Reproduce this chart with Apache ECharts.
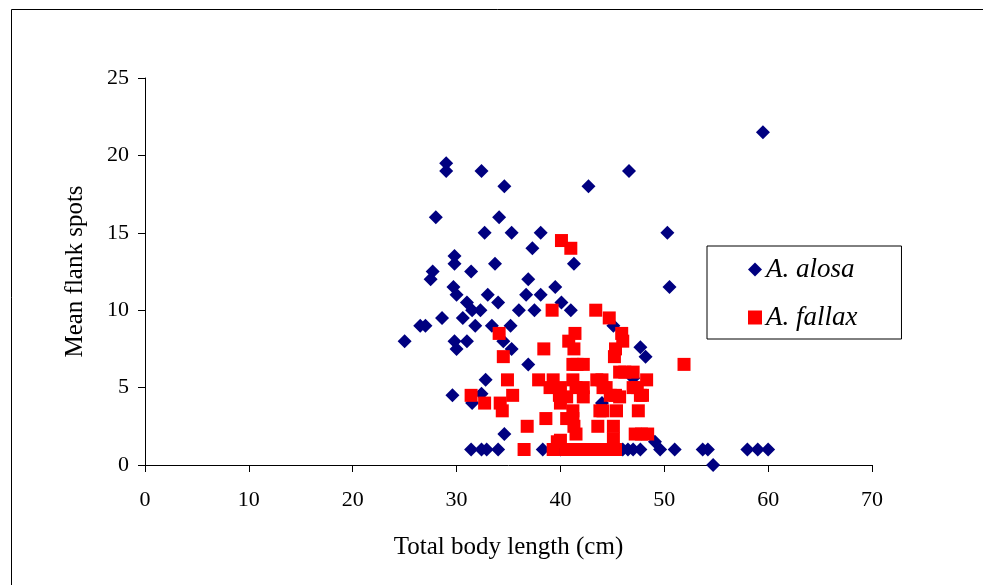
<!DOCTYPE html>
<html>
<head>
<meta charset="utf-8">
<script src="https://cdn.jsdelivr.net/npm/echarts@6/dist/echarts.min.js"></script>
<style>
html,body{margin:0;padding:0;background:#fff;}
#chart{width:983px;height:585px;}
</style>
</head>
<body>
<div id="chart"></div>
<script>
// A. alosa: [total body length (cm), mean flank spots]
var alosaData = [
  [25,8],[26.5,9],[27,9],[27.5,12],[27.7,12.5],[28,16],[28.6,9.5],[29,19.5],[29,19],
  [29.6,4.5],[29.7,11.5],[30,11],[29.8,13.5],[29.8,13],[29.8,8],[30,7.5],[31,8],[30.6,9.5],
  [31,10.5],[31.5,10],[31.4,12.5],[31.8,9],[31.5,4],[31.4,1],[32.3,10],[32.4,19],[32.4,4.6],
  [32.7,15],[32.8,5.5],[32.4,1],[32.9,1],[33,11],[33.4,9],[33.7,13],[34,10.5],[34.1,16],
  [34,1],[34.6,18],[34.5,8],[34.6,2],[35.2,9],[35.3,15],[35.3,7.5],[36,10],[36.7,11],
  [36.9,12],[36.9,6.5],[37.3,14],[37.5,10],[38.1,15],[38.1,11],[38.3,1],[39.5,11.5],
  [40.1,10.5],[41,10],[41.3,13],[42.7,18],[44,4],[45.1,9],[46.6,19],[47,5.6],[40,1],
  [46,1],[46.5,1],[47,1],[47.7,1],[47.7,7.6],[48.2,7],[49.1,1.5],[49.6,1],[51,1],
  [50.3,15],[50.5,11.5],[53.7,1],[54.2,1],[54.7,0],[58,1],[59,1],[60,1],[59.5,21.5]
];
// A. fallax: [total body length (cm), mean flank spots]
var fallaxData = [
  [31.4,4.5],[32.7,4],[34.1,8.5],[34.5,7],[34.9,5.5],[34.2,4],[35.4,4.5],[34.4,3.5],
  [36.8,2.5],[36.5,1],[37.9,5.5],[38.4,7.5],[38.6,3],[39.2,10],[39.3,5.5],[39,5],
  [39.9,4.5],[40,4],[39.3,1],[39.7,1.5],[40.1,14.5],[41,14],[40.8,8],[41.3,7.5],
  [41.4,8.5],[41.2,6.5],[41.6,6.5],[42.2,6.5],[41.2,5.5],[41.5,5],[40.6,4.4],[40,5],
  [40.6,3],[41.2,3.5],[41.2,3],[41.5,2],[41.3,2.5],[40,1.6],[41.6,1],[40.5,1],[42.3,1],
  [42.2,5],[42.2,4.4],[42.8,1],[43.1,1],[43.4,10],[43.5,5.5],[44,5.5],[43.6,2.5],
  [43.8,3.5],[44.1,5],[44.1,3.5],[44.4,5],[44.7,9.5],[44.8,4.5],[44.8,1],[44,1],
  [45.1,2.5],[45.1,1.7],[45.3,7.5],[45.2,7],[45.3,4.5],[45.4,3.5],[45.3,1],[45.9,8.5],
  [46,8],[45.7,6],[46.2,6],[45.7,4.4],[47,6],[47,5],[47.4,5],[47.5,3.5],[47.7,4.5],
  [47.9,4.5],[48.3,5.5],[47.2,2],[47.8,2],[48.4,2],[51.9,6.5]
];
var seriesNames = ['A. alosa', 'A. fallax'];
var xTitle = 'Total body length (cm)';
var yTitle = 'Mean flank spots';

var serif = '"Liberation Serif", "Times New Roman", serif';
var chart = echarts.init(document.getElementById('chart'), null, {renderer: 'canvas'});
chart.setOption({
  backgroundColor: '#fff',
  animation: false,
  graphic: [{
    type: 'rect', left: 9, top: 7, silent: true, z: -1,
    shape: {x: 0, y: 0, width: 1000, height: 620},
    style: {fill: 'none', stroke: '#000', lineWidth: 1}
  }],
  grid: {left: 145, right: 111, top: 78, bottom: 120, containLabel: false},
  legend: {
    orient: 'vertical',
    left: 707, top: 246,
    padding: [10, 44, 8, 41],
    itemGap: 21,
    itemWidth: 14, itemHeight: 14,
    borderColor: '#000', borderWidth: 1,
    backgroundColor: '#fff',
    textStyle: {fontFamily: serif, fontSize: 27, fontStyle: 'italic', color: '#000', padding: [0,0,0,-1]},
    data: [
      {name: seriesNames[0], icon: 'diamond', itemStyle: {color: '#000080'}},
      {name: seriesNames[1], icon: 'rect', itemStyle: {color: '#ff0000'}}
    ]
  },
  xAxis: {
    type: 'value', min: 0, max: 70, interval: 10,
    name: xTitle, nameLocation: 'middle', nameGap: 70,
    nameTextStyle: {fontFamily: serif, fontSize: 25, color: '#000'},
    axisLine: {show: true, onZero: false, lineStyle: {color: '#000', width: 1}},
    axisTick: {show: true, inside: false, length: 7, lineStyle: {color: '#000'}},
    axisLabel: {fontFamily: serif, fontSize: 22, color: '#000', margin: 24},
    splitLine: {show: false}
  },
  yAxis: {
    type: 'value', min: 0, max: 25, interval: 5,
    name: yTitle, nameLocation: 'middle', nameGap: 57, nameRotate: 90,
    nameTextStyle: {fontFamily: serif, fontSize: 25, color: '#000'},
    axisLine: {show: true, onZero: false, lineStyle: {color: '#000', width: 1}},
    axisTick: {show: true, inside: false, length: 7, lineStyle: {color: '#000'}},
    axisLabel: {fontFamily: serif, fontSize: 22, color: '#000', margin: 16},
    splitLine: {show: false}
  },
  series: [
    {
      name: seriesNames[0], type: 'scatter', symbol: 'diamond', symbolSize: 14,
      itemStyle: {color: '#000080', opacity: 1},
      data: alosaData
    },
    {
      name: seriesNames[1], type: 'scatter', symbol: 'rect', symbolSize: 13,
      itemStyle: {color: '#ff0000', opacity: 1},
      data: fallaxData
    }
  ]
});
</script>
</body>
</html>
